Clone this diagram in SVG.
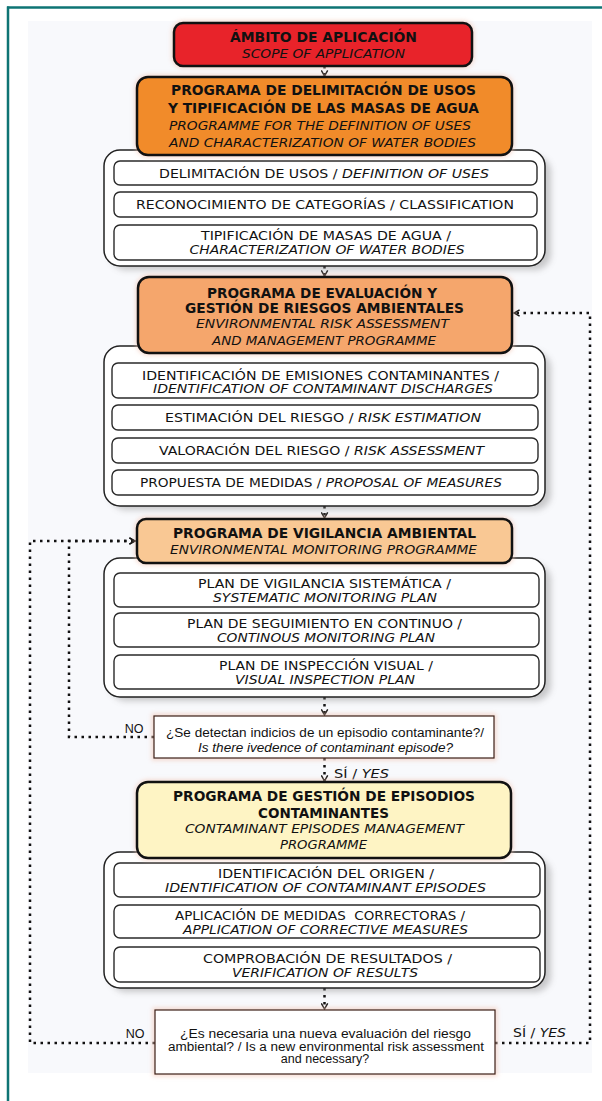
<svg xmlns="http://www.w3.org/2000/svg" width="602" height="1101" viewBox="0 0 602 1101">
<defs>
<filter id="blur" x="-20%" y="-20%" width="140%" height="140%"><feGaussianBlur stdDeviation="3"/></filter>
<filter id="halo" x="-20%" y="-20%" width="140%" height="140%"><feGaussianBlur stdDeviation="2"/></filter>
<marker id="chev" viewBox="0 0 10 10" refX="8" refY="5" markerWidth="8" markerHeight="8" markerUnits="userSpaceOnUse" orient="auto">
<path d="M1,1 L8,5 L1,9" fill="none" stroke="#111" stroke-width="1.8"/>
</marker>
<style>
.hb{font-family:"DejaVu Sans","Liberation Sans",sans-serif;font-weight:bold;font-size:14px;fill:#111;text-anchor:middle}
.hi{font-family:"DejaVu Sans","Liberation Sans",sans-serif;font-style:italic;font-size:13px;fill:#111;text-anchor:middle}
.st{font-family:"DejaVu Sans","Liberation Sans",sans-serif;font-size:12px;fill:#111;text-anchor:middle}
.it{font-style:italic}
.dt{font-family:"Liberation Sans",Arial,sans-serif;font-size:12.5px;fill:#111;text-anchor:middle}
.prog{stroke:#111;stroke-width:2.5}
.cont{fill:#fff;stroke:#222;stroke-width:1.5}
.sub{fill:#fff;stroke:#2a2a2a;stroke-width:1.4}
.dec{fill:#fff;stroke:#3b1f16;stroke-width:1.2}
.dot{fill:none;stroke:#111;stroke-width:2.5;stroke-dasharray:2.5 4.5}
.shadow{fill:#8c8c8c;opacity:0.45}
.glow{fill:none;stroke:#f2c4b2;stroke-width:5;opacity:0.6}
</style>
</defs>
<rect width="602" height="1101" fill="#fff"/>
<rect x="28" y="21" width="564" height="1052" fill="#f8f9fc"/>
<line x1="7" y1="7.5" x2="602" y2="7.5" stroke="#0e7474" stroke-width="2.5"/>
<line x1="8" y1="6.5" x2="8" y2="1101" stroke="#0e7474" stroke-width="2.5"/>

<g id="connectors">
<line class="dot" x1="324.5" y1="66" x2="324.5" y2="76" marker-end="url(#chev)"/>
<line class="dot" x1="324.5" y1="266" x2="324.5" y2="276" marker-end="url(#chev)"/>
<line class="dot" x1="324.5" y1="506" x2="324.5" y2="518" marker-end="url(#chev)"/>
<line class="dot" x1="324.5" y1="697" x2="324.5" y2="715" marker-end="url(#chev)"/>
<line class="dot" x1="324.5" y1="758" x2="324.5" y2="781" marker-end="url(#chev)"/>
<line class="dot" x1="324.5" y1="988" x2="324.5" y2="1009" marker-end="url(#chev)"/>
<polyline class="dot" points="154,737 69,737 69,541 135,541" marker-end="url(#chev)"/>
<polyline class="dot" points="155,1043 30,1043 30,541 135,541" marker-end="url(#chev)"/>
<polyline class="dot" points="495,1043 590,1043 590,313 514,313" marker-end="url(#chev)"/>
</g>

<g id="scope">
<rect class="glow" x="174" y="23" width="298" height="43" rx="9" filter="url(#halo)"/>
<rect class="prog" x="174" y="23" width="298" height="43" rx="9" fill="#e8232a"/>
<text class="hb" x="323.5" y="42" textLength="187" lengthAdjust="spacingAndGlyphs">ÁMBITO DE APLICACIÓN</text>
<text class="hi" x="323.5" y="58" textLength="163" lengthAdjust="spacingAndGlyphs">SCOPE OF APPLICATION</text>
</g>

<g id="container1">
<rect class="shadow" x="110" y="156" width="441" height="114" rx="16" filter="url(#blur)"/>
<rect class="cont" x="104" y="150" width="441" height="116" rx="16"/>
<rect class="sub" x="114" y="161" width="423" height="24" rx="6"/>
<text class="st" x="324" y="177.5" textLength="330" lengthAdjust="spacingAndGlyphs">DELIMITACIÓN DE USOS / <tspan class="it">DEFINITION OF USES</tspan></text>
<rect class="sub" x="114" y="192" width="423" height="25" rx="6"/>
<text class="st" x="325" y="208.5" textLength="378" lengthAdjust="spacingAndGlyphs">RECONOCIMIENTO DE CATEGORÍAS / CLASSIFICATION</text>
<rect class="sub" x="114" y="225" width="423" height="35" rx="6"/>
<text class="st" x="326" y="239.5" textLength="250" lengthAdjust="spacingAndGlyphs">TIPIFICACIÓN DE MASAS DE AGUA /</text>
<text class="st it" x="327" y="254" textLength="275" lengthAdjust="spacingAndGlyphs">CHARACTERIZATION OF WATER BODIES</text>
</g>

<g id="program1">
<rect class="glow" x="137" y="77" width="375" height="78" rx="11" filter="url(#halo)"/>
<rect class="prog" x="137" y="77" width="375" height="78" rx="11" fill="#f18b2a"/>
<text class="hb" x="323.5" y="95" textLength="305" lengthAdjust="spacingAndGlyphs">PROGRAMA DE DELIMITACIÓN DE USOS</text>
<text class="hb" x="323.5" y="113" textLength="311" lengthAdjust="spacingAndGlyphs">Y TIPIFICACIÓN DE LAS MASAS DE AGUA</text>
<text class="hi" x="320" y="130" textLength="302" lengthAdjust="spacingAndGlyphs">PROGRAMME FOR THE DEFINITION OF USES</text>
<text class="hi" x="322.5" y="147" textLength="307" lengthAdjust="spacingAndGlyphs">AND CHARACTERIZATION OF WATER BODIES</text>
</g>

<g id="container2">
<rect class="shadow" x="110" y="352" width="441" height="158" rx="16" filter="url(#blur)"/>
<rect class="cont" x="104" y="346" width="441" height="160" rx="16"/>
<rect class="sub" x="112" y="363" width="426" height="35" rx="6"/>
<text class="st" x="320.5" y="379.5" textLength="357" lengthAdjust="spacingAndGlyphs">IDENTIFICACIÓN DE EMISIONES CONTAMINANTES /</text>
<text class="st it" x="323" y="393" textLength="340" lengthAdjust="spacingAndGlyphs">IDENTIFICATION OF CONTAMINANT DISCHARGES</text>
<rect class="sub" x="112" y="405" width="426" height="25" rx="6"/>
<text class="st" x="323" y="422" textLength="316" lengthAdjust="spacingAndGlyphs">ESTIMACIÓN DEL RIESGO / <tspan class="it">RISK ESTIMATION</tspan></text>
<rect class="sub" x="112" y="438" width="426" height="25" rx="6"/>
<text class="st" x="321.5" y="455" textLength="325" lengthAdjust="spacingAndGlyphs">VALORACIÓN DEL RIESGO / <tspan class="it">RISK ASSESSMENT</tspan></text>
<rect class="sub" x="112" y="470" width="426" height="25" rx="6"/>
<text class="st" x="321" y="486.5" textLength="362" lengthAdjust="spacingAndGlyphs">PROPUESTA DE MEDIDAS / <tspan class="it">PROPOSAL OF MEASURES</tspan></text>
</g>

<g id="program2">
<rect class="glow" x="138" y="277" width="374" height="76" rx="11" filter="url(#halo)"/>
<rect class="prog" x="138" y="277" width="374" height="76" rx="11" fill="#f5a66c"/>
<text class="hb" x="322" y="298" textLength="230" lengthAdjust="spacingAndGlyphs">PROGRAMA DE EVALUACIÓN Y</text>
<text class="hb" x="324.5" y="313" textLength="279" lengthAdjust="spacingAndGlyphs">GESTIÓN DE RIESGOS AMBIENTALES</text>
<text class="hi" x="322.5" y="328" textLength="253" lengthAdjust="spacingAndGlyphs">ENVIRONMENTAL RISK ASSESSMENT</text>
<text class="hi" x="324" y="345" textLength="224" lengthAdjust="spacingAndGlyphs">AND MANAGEMENT PROGRAMME</text>
</g>

<g id="container3">
<rect class="shadow" x="110" y="564" width="441" height="137" rx="16" filter="url(#blur)"/>
<rect class="cont" x="104" y="558" width="441" height="139" rx="16"/>
<rect class="sub" x="114" y="573" width="425" height="34" rx="6"/>
<text class="st" x="324.5" y="587.5" textLength="253" lengthAdjust="spacingAndGlyphs">PLAN DE VIGILANCIA SISTEMÁTICA /</text>
<text class="st it" x="325" y="601.5" textLength="224" lengthAdjust="spacingAndGlyphs">SYSTEMATIC MONITORING PLAN</text>
<rect class="sub" x="114" y="613" width="425" height="34" rx="6"/>
<text class="st" x="324.5" y="627.5" textLength="275" lengthAdjust="spacingAndGlyphs">PLAN DE SEGUIMIENTO EN CONTINUO /</text>
<text class="st it" x="326" y="641.5" textLength="218" lengthAdjust="spacingAndGlyphs">CONTINOUS MONITORING PLAN</text>
<rect class="sub" x="114" y="655" width="425" height="34" rx="6"/>
<text class="st" x="326" y="669.5" textLength="214" lengthAdjust="spacingAndGlyphs">PLAN DE INSPECCIÓN VISUAL /</text>
<text class="st it" x="325" y="684" textLength="180" lengthAdjust="spacingAndGlyphs">VISUAL INSPECTION PLAN</text>
</g>

<g id="program3">
<rect class="glow" x="137" y="519" width="375" height="44" rx="9" filter="url(#halo)"/>
<rect class="prog" x="137" y="519" width="375" height="44" rx="9" fill="#f9c894"/>
<text class="hb" x="324.5" y="538" textLength="303" lengthAdjust="spacingAndGlyphs">PROGRAMA DE VIGILANCIA AMBIENTAL</text>
<text class="hi" x="323.5" y="554" textLength="307" lengthAdjust="spacingAndGlyphs">ENVIRONMENTAL MONITORING PROGRAMME</text>
</g>

<g id="decision1">
<rect class="glow" x="154" y="716" width="340" height="42" filter="url(#halo)"/>
<rect class="dec" x="154" y="716" width="340" height="42"/>
<text class="dt" x="325" y="736.5" textLength="318" lengthAdjust="spacingAndGlyphs">¿Se detectan indicios de un episodio contaminante?/</text>
<text class="dt it" x="325.5" y="751.5" textLength="255" lengthAdjust="spacingAndGlyphs">Is there ivedence of contaminant episode?</text>
</g>

<g id="labels">
<text class="dt" x="134" y="732.5">NO</text>
<text class="st" x="334" y="777.5" style="text-anchor:start" textLength="55" lengthAdjust="spacingAndGlyphs">SÍ / <tspan class="it">YES</tspan></text>
<text class="dt" x="135" y="1037.5">NO</text>
<text class="st" x="513" y="1036.5" style="text-anchor:start" textLength="53" lengthAdjust="spacingAndGlyphs">SÍ / <tspan class="it">YES</tspan></text>
</g>

<g id="container4">
<rect class="shadow" x="110" y="858" width="441" height="134" rx="16" filter="url(#blur)"/>
<rect class="cont" x="104" y="852" width="441" height="136" rx="16"/>
<rect class="sub" x="114" y="863" width="426" height="34" rx="6"/>
<text class="st" x="326" y="877.5" textLength="216" lengthAdjust="spacingAndGlyphs">IDENTIFICACIÓN DEL ORIGEN /</text>
<text class="st it" x="325.5" y="891.5" textLength="321" lengthAdjust="spacingAndGlyphs">IDENTIFICATION OF CONTAMINANT EPISODES</text>
<rect class="sub" x="114" y="905" width="426" height="33" rx="6"/>
<text class="st" x="320" y="919.5" textLength="290" lengthAdjust="spacingAndGlyphs" xml:space="preserve">APLICACIÓN DE MEDIDAS  CORRECTORAS /</text>
<text class="st it" x="325.5" y="933.5" textLength="285" lengthAdjust="spacingAndGlyphs">APPLICATION OF CORRECTIVE MEASURES</text>
<rect class="sub" x="114" y="947" width="426" height="35" rx="6"/>
<text class="st" x="327.5" y="962.5" textLength="249" lengthAdjust="spacingAndGlyphs">COMPROBACIÓN DE RESULTADOS /</text>
<text class="st it" x="325" y="976.5" textLength="186" lengthAdjust="spacingAndGlyphs">VERIFICATION OF RESULTS</text>
</g>

<g id="program4">
<rect class="glow" x="137" y="782" width="374" height="76" rx="11" filter="url(#halo)"/>
<rect class="prog" x="137" y="782" width="374" height="76" rx="11" fill="#fef4c4"/>
<text class="hb" x="324" y="801" textLength="302" lengthAdjust="spacingAndGlyphs">PROGRAMA DE GESTIÓN DE EPISODIOS</text>
<text class="hb" x="323.5" y="818" textLength="131" lengthAdjust="spacingAndGlyphs">CONTAMINANTES</text>
<text class="hi" x="324.5" y="833" textLength="279" lengthAdjust="spacingAndGlyphs">CONTAMINANT EPISODES MANAGEMENT</text>
<text class="hi" x="323.5" y="849" textLength="87" lengthAdjust="spacingAndGlyphs">PROGRAMME</text>
</g>

<g id="decision2">
<rect class="glow" x="155" y="1010" width="340" height="64" filter="url(#halo)"/>
<rect class="dec" x="155" y="1010" width="340" height="64"/>
<text class="dt" x="325.5" y="1038" textLength="291" lengthAdjust="spacingAndGlyphs">¿Es necesaria una nueva evaluación del riesgo</text>
<text class="dt" x="326" y="1050.5" textLength="316" lengthAdjust="spacingAndGlyphs">ambiental? / Is a new environmental risk assessment</text>
<text class="dt" x="325" y="1062.5">and necessary?</text>
</g>
</svg>
